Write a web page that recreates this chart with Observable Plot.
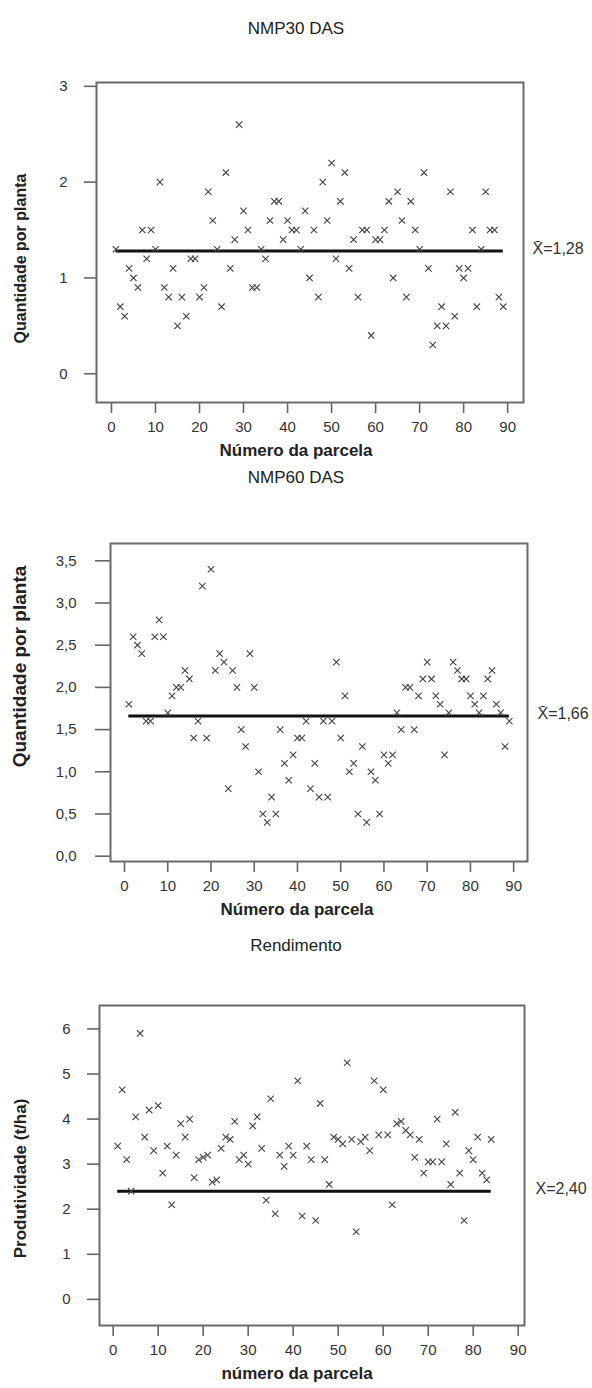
<!DOCTYPE html>
<html>
<head>
<meta charset="utf-8">
<script src="https://cdn.jsdelivr.net/npm/d3@7"></script>
<script src="https://cdn.jsdelivr.net/npm/@observablehq/plot@0.6"></script>
<style>
  html, body { margin: 0; padding: 0; background: #fff; }
  #wrap { position: relative; width: 592px; height: 1388px; overflow: hidden; font-family: "Liberation Sans", Arial, sans-serif; }
  #wrap svg { position: absolute; left: 0; overflow: visible; }
  .ttl { position: absolute; left: 0; width: 592px; text-align: center; font-size: 17px; color: #222; line-height: 20px; }
</style>
</head>
<body>
<div id="wrap"></div>
<script>
// ---------- data ----------
const titles = ["NMP30 DAS", "NMP60 DAS", "Rendimento"];
const xLabels = ["Número da parcela", "Número da parcela", "número da parcela"];
const yLabels = ["Quantidade por planta", "Quantidade por planta", "Produtividade (t/ha)"];
const xTicks = [0, 10, 20, 30, 40, 50, 60, 70, 80, 90];
const yTicks30 = [0, 1, 2, 3];
const yTicks60 = [0, 0.5, 1, 1.5, 2, 2.5, 3, 3.5];
const yTicksRend = [0, 1, 2, 3, 4, 5, 6];

const nmp30 = [1.3, 0.7, 0.6, 1.1, 1.0, 0.9, 1.5, 1.2, 1.5, 1.3,
  2.0, 0.9, 0.8, 1.1, 0.5, 0.8, 0.6, 1.2, 1.2, 0.8,
  0.9, 1.9, 1.6, 1.3, 0.7, 2.1, 1.1, 1.4, 2.6, 1.7,
  1.5, 0.9, 0.9, 1.3, 1.2, 1.6, 1.8, 1.8, 1.4, 1.6,
  1.5, 1.5, 1.3, 1.7, 1.0, 1.5, 0.8, 2.0, 1.6, 2.2,
  1.2, 1.8, 2.1, 1.1, 1.4, 0.8, 1.5, 1.5, 0.4, 1.4,
  1.4, 1.5, 1.8, 1.0, 1.9, 1.6, 0.8, 1.8, 1.5, 1.3,
  2.1, 1.1, 0.3, 0.5, 0.7, 0.5, 1.9, 0.6, 1.1, 1.0,
  1.1, 1.5, 0.7, 1.3, 1.9, 1.5, 1.5, 0.8, 0.7];

const nmp60 = [1.8, 2.6, 2.5, 2.4, 1.6, 1.6, 2.6, 2.8, 2.6, 1.7,
  1.9, 2.0, 2.0, 2.2, 2.1, 1.4, 1.6, 3.2, 1.4, 3.4,
  2.2, 2.4, 2.3, 0.8, 2.2, 2.0, 1.5, 1.3, 2.4, 2.0,
  1.0, 0.5, 0.4, 0.7, 0.5, 1.5, 1.1, 0.9, 1.2, 1.4,
  1.4, 1.6, 0.8, 1.1, 0.7, 1.6, 0.7, 1.6, 2.3, 1.4,
  1.9, 1.0, 1.1, 0.5, 1.3, 0.4, 1.0, 0.9, 0.5, 1.2,
  1.1, 1.2, 1.7, 1.5, 2.0, 2.0, 1.5, 1.9, 2.1, 2.3,
  2.1, 1.9, 1.8, 1.2, 1.7, 2.3, 2.2, 2.1, 2.1, 1.9,
  1.8, 1.7, 1.9, 2.1, 2.2, 1.8, 1.7, 1.3, 1.6];

const rendimento = [3.4, 4.65, 3.1, 2.4, 4.05, 5.9, 3.6, 4.2, 3.3, 4.3,
  2.8, 3.4, 2.1, 3.2, 3.9, 3.6, 4.0, 2.7, 3.1, 3.15,
  3.2, 2.6, 2.65, 3.35, 3.6, 3.55, 3.95, 3.1, 3.2, 3.0,
  3.85, 4.05, 3.35, 2.2, 4.45, 1.9, 3.2, 2.95, 3.4, 3.2,
  4.85, 1.85, 3.4, 3.1, 1.75, 4.35, 3.1, 2.55, 3.6, 3.55,
  3.45, 5.25, 3.55, 1.5, 3.5, 3.6, 3.3, 4.85, 3.65, 4.65,
  3.65, 2.1, 3.9, 3.95, 3.75, 3.65, 3.15, 3.55, 2.8, 3.05,
  3.05, 4.0, 3.05, 3.45, 2.55, 4.15, 2.8, 1.75, 3.3, 3.1,
  3.6, 2.8, 2.65, 3.55];

const means = [1.28, 1.66, 2.40];
const meanLabels = ["X\u0304=1,28", "X\u0304=1,66", "X=2,40"];

// ---------- drawing ----------
const sans = "'Liberation Sans', Arial, sans-serif";
const wrap = document.getElementById("wrap");

function panel(cfg) {
  const data = cfg.values.map((v, i) => ({parcela: i + 1, valor: v}));
  const meanRow = [{y: cfg.mean, x1: 1, x2: cfg.values.length, t: cfg.meanLabel}];
  const svg = Plot.plot({
    width: 592, height: cfg.height,
    marginTop: cfg.mt, marginBottom: cfg.mb, marginLeft: cfg.ml, marginRight: cfg.mr,
    style: {background: "transparent", fontFamily: sans, fontSize: "15px", color: "#333", overflow: "visible"},
    x: {domain: cfg.xDomain, label: null},
    y: {domain: cfg.yDomain, label: null},
    marks: [
      Plot.axisX({ticks: xTicks, tickSize: 11, tickPadding: 8, stroke: "#666", strokeWidth: 1.6, fill: "#333", fontSize: cfg.fs, fontFamily: sans, label: null}),
      Plot.axisY({ticks: cfg.yTicks, tickSize: cfg.ts, tickPadding: cfg.tp, tickFormat: cfg.yFmt, stroke: "#666", strokeWidth: 1.6, fill: "#333", fontSize: cfg.fs, fontFamily: sans, label: null}),
      Plot.frame({stroke: "#6a6a6a", strokeWidth: 2}),
      Plot.ruleY(meanRow, {y: "y", x1: "x1", x2: "x2", stroke: "#111", strokeWidth: 3}),
      Plot.dot(data, {x: "parcela", y: "valor", symbol: "times", r: 3, stroke: "#444", strokeWidth: 1.1}),
      Plot.text(meanRow, {y: "y", text: "t", frameAnchor: "right", dx: cfg.mdx, dy: -2, textAnchor: "start", fontSize: 16, fontFamily: sans, fill: "#333"}),
      Plot.text([cfg.xLabel], {text: d => d, frameAnchor: "bottom", dx: cfg.xtdx, dy: 48, lineAnchor: "middle", fontSize: 17, fontWeight: "bold", fill: "#222", fontFamily: sans}),
      Plot.text([cfg.yLabel], {text: d => d, frameAnchor: "left", dx: cfg.ydx, dy: cfg.ydy, rotate: -90, textAnchor: "middle", lineAnchor: "middle", fontSize: cfg.yfs, fontWeight: "bold", fill: "#222", fontFamily: sans})
    ]
  });
  svg.style.top = cfg.top + "px";
  wrap.appendChild(svg);
  const t = document.createElement("div");
  t.className = "ttl";
  t.style.top = cfg.titleTop + "px";
  t.textContent = cfg.title;
  wrap.appendChild(t);
}

const fmtComma = d => d.toFixed(1).replace(".", ",");

panel({values: nmp30, mean: means[0], meanLabel: meanLabels[0], title: titles[0], xLabel: xLabels[0], yLabel: yLabels[0],
  yTicks: yTicks30, yFmt: d => String(d), top: 0, height: 470, mt: 82, mb: 68, ml: 96, mr: 69,
  xDomain: [-3.4, 93.6], yDomain: [-0.30, 3.04], ts: 12, tp: 17, ydx: -76, ydy: 16, yfs: 16, fs: 15, xtdx: -14, mdx: 9, titleTop: 19});

panel({values: nmp60, mean: means[1], meanLabel: meanLabels[1], title: titles[1], xLabel: xLabels[1], yLabel: yLabels[1],
  yTicks: yTicks60, yFmt: fmtComma, top: 470, height: 460, mt: 73, mb: 69, ml: 110, mr: 65,
  xDomain: [-3.24, 93.2], yDomain: [-0.063, 3.705], ts: 15, tp: 19, ydx: -91, ydy: -36, yfs: 19, fs: 15, xtdx: -22, mdx: 10, titleTop: 468});

panel({values: rendimento, mean: means[2], meanLabel: meanLabels[2], title: titles[2], xLabel: xLabels[2], yLabel: yLabels[2],
  yTicks: yTicksRend, yFmt: d => String(d), top: 930, height: 458, mt: 75, mb: 63, ml: 99, mr: 68,
  xDomain: [-3.04, 91.4], yDomain: [-0.58, 6.52], ts: 12, tp: 17, ydx: -79, ydy: 13, yfs: 17, fs: 15, xtdx: -15, mdx: 11, titleTop: 936});
</script>
</body>
</html>
